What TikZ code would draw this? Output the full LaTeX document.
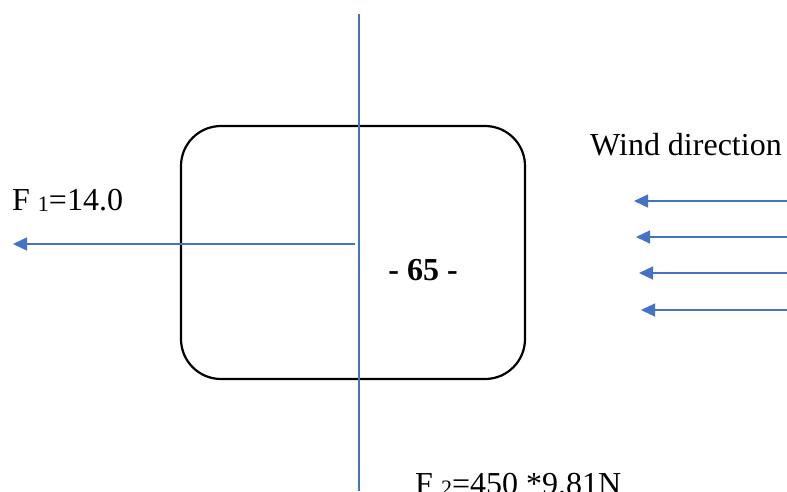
\documentclass[tikz,border=0pt]{standalone}
\usepackage{fontspec}
\setmainfont{Liberation Serif}
\definecolor{windblue}{RGB}{68, 114, 196}
\usetikzlibrary{arrows.meta}

\begin{document}
\begin{tikzpicture}[x=1pt, y=-1pt, >={Triangle[length=14pt, width=13pt]},
    force/.style={->, windblue, line width=1.4pt},
    label/.style={font=\fontsize{32}{38}\selectfont, anchor=base west, inner sep=0pt}]
\useasboundingbox (0,0) rectangle (787,491);
\clip (0,0) rectangle (787,491);

% === Body ===
\draw[line width=2.2pt, rounded corners=40pt] (181,126) rectangle (525,379);
\node[font=\fontsize{32}{38}\selectfont\bfseries, inner sep=0pt] (mark) at (423,270) {- 65 -};

% === Vertical axis ===
\coordinate (axtop) at (359,14);
\coordinate (axbot) at (359,491);
\draw[windblue, line width=1.4pt] (axtop) -- (axbot);

% === Force F1 ===
\coordinate (fstart) at (355,244);
\coordinate (fend) at (13,244);
\draw[force] (fstart) -- (fend);
\node[label] (fone) at (12,210) {F \raisebox{-1pt}{\fontsize{22}{22}\selectfont 1}=14.0};

% === Force F2 ===
\node[label] (ftwo) at (415,494) {F \raisebox{-1pt}{\fontsize{22}{22}\selectfont 2}=450 *9.81N};

% === Wind ===
\node[label] (wind) at (590,155) {Wind direction};
\foreach \y/\t [count=\i] in {201/634, 237/636, 273/639, 310/641} {
    \coordinate (w\i) at (787,\y);
    \coordinate (t\i) at (\t,\y);
    \draw[force] (w\i) -- (t\i);
}

\end{tikzpicture}
\end{document}
